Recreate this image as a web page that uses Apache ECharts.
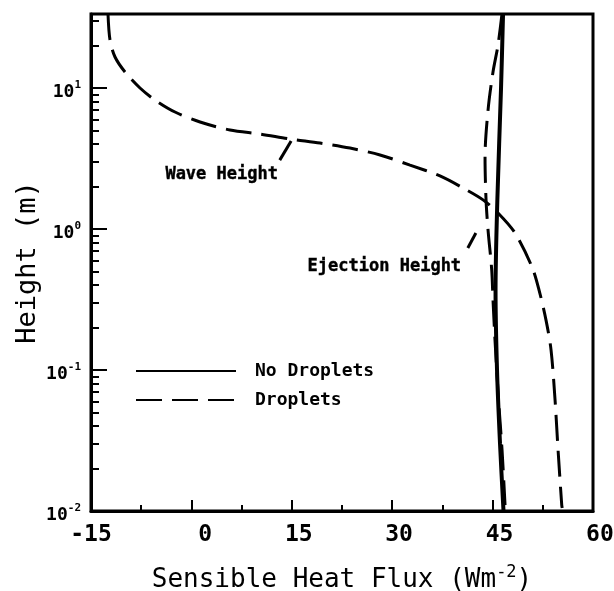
<!DOCTYPE html>
<html>
<head>
<meta charset="utf-8">
<script src="https://cdn.jsdelivr.net/npm/echarts@6/dist/echarts.min.js"></script>
<style>html,body{margin:0;padding:0;background:#fff}#c{width:614px;height:591px}</style>
</head>
<body>
<div id="c"></div>
<script>
// x = sensible heat flux (W m^-2), h = height (m)
const xTicks = [-15, 0, 15, 30, 45, 60];
const yMajor = [0.01, 0.1, 1, 10];
const yMinor = [0.02,0.03,0.04,0.05,0.06,0.07,0.08,0.09,0.2,0.3,0.4,0.5,0.6,0.7,0.8,0.9,2,3,4,5,6,7,8,9,20,30];

const noDropletsX = [46.56, 46.26, 45.71, 45.44, 45.66, 46.11, 46.63];
const noDropletsH = [33.5, 10, 1.61, 0.369, 0.1, 0.0299, 0.01];

const waveX = [-12.46, -12.16, -11.41, -9.92, -7.68, -5.44, -2.45, 1.29, 5.77, 10.25, 14.73, 19.22, 23.70, 28.18, 32.66, 37.14, 40.88, 43.57, 45.81, 48.35, 50.89, 51.94, 52.98, 53.73, 54.33, 54.78, 55.33, 55.4];
const waveH = [33.5, 21.9, 16.6, 13.0, 10.0, 8.22, 6.76, 5.74, 5.04, 4.72, 4.35, 4.07, 3.75, 3.35, 2.84, 2.38, 1.92, 1.61, 1.30, 0.937, 0.538, 0.369, 0.226, 0.139, 0.0613, 0.0271, 0.0110, 0.0105];

const ejectX = [46.4, 45.81, 45.06, 44.32, 43.87, 44.02, 44.32, 44.87, 45.06, 45.36, 45.89, 46.41, 46.86];
const ejectH = [33.5, 20.2, 13.0, 6.98, 3.24, 1.61, 0.984, 0.512, 0.314, 0.163, 0.0613, 0.0271, 0.0110];

const waveLabel = {text: 'Wave Height', x: 4.6, h: 2.41};
const ejectLabel = {text: 'Ejection Height', x: 28.9, h: 0.537};
const waveLeaderX = [13.2, 14.9], waveLeaderH = [3.08, 4.21];
const ejectLeaderX = [41.3, 42.5], ejectLeaderH = [0.733, 0.937];

const zip = (a, b) => a.map((v, i) => [v, b[i]]);
const MONO = 'DejaVu Sans Mono';
const dash = [26, 10];
const pad3 = v => { const s = String(v); return '\u00a0'.repeat(Math.max(0, 3 - s.length)) + s; };

const chart = echarts.init(document.getElementById('c'), null, {renderer: 'canvas'});
chart.setOption({
  backgroundColor: '#fff',
  animation: false,
  color: ['#000'],
  grid: {left: 91, right: 21, top: 14, bottom: 80, containLabel: false, outerBoundsMode: 'none',
    show: true, borderColor: '#000', borderWidth: 3, backgroundColor: 'transparent'},
  legend: {
    orient: 'vertical', left: 135, top: 362, padding: 0, itemWidth: 100, itemHeight: 20, itemGap: 11,
    data: ['No Droplets', 'Droplets'],
    itemStyle: {opacity: 0},
    textStyle: {fontFamily: MONO, fontWeight: 'bold', fontSize: 18, color: '#000', padding: [0, 0, 0, 14]}
  },
  xAxis: {
    type: 'value', min: -15, max: 60, interval: 15,
    name: 'Sensible Heat Flux (Wm{s|-2})', nameLocation: 'middle', nameGap: 53, nameMoveOverlap: false,
    nameTextStyle: {fontFamily: MONO, fontSize: 26, color: '#000',
      rich: {s: {fontFamily: MONO, fontSize: 17, color: '#000', padding: [0, 0, 15, 0]}}},
    axisLine: {onZero: false, lineStyle: {color: '#000', width: 3}},
    axisTick: {inside: true, length: 11, lineStyle: {color: '#000', width: 2}},
    minorTick: {show: true, splitNumber: 2, length: 6, lineStyle: {color: '#000', width: 2}},
    splitLine: {show: false},
    axisLabel: {fontFamily: MONO, fontWeight: 'bold', fontSize: 23, color: '#000', margin: 13,
      customValues: xTicks, formatter: pad3}
  },
  yAxis: [{
    type: 'log', logBase: 10, min: 0.01, max: 33.5,
    name: 'Height (m)', nameLocation: 'middle', nameGap: 50, nameMoveOverlap: false,
    nameTextStyle: {fontFamily: MONO, fontSize: 27, color: '#000'},
    axisLine: {onZero: false, lineStyle: {color: '#000', width: 3}},
    axisTick: {inside: true, length: 16, lineStyle: {color: '#000', width: 2}, customValues: yMajor},
    splitLine: {show: false},
    axisLabel: {
      customValues: yMajor, margin: 10,
      formatter: v => '{b|10}{s|' + Math.round(Math.log10(v)) + '}',
      rich: {
        b: {fontFamily: MONO, fontWeight: 'bold', fontSize: 18, color: '#000', padding: [8, 0, 0, 0]},
        s: {fontFamily: MONO, fontWeight: 'bold', fontSize: 11, color: '#000', padding: [0, 0, 6, 0]}
      }
    }
  }, {
    type: 'log', logBase: 10, min: 0.01, max: 33.5, position: 'left',
    axisLine: {show: false, onZero: false},
    axisTick: {inside: true, length: 8, lineStyle: {color: '#000', width: 2}, customValues: yMinor},
    axisLabel: {show: false},
    splitLine: {show: false}
  }],
  series: [
    {name: 'No Droplets', type: 'line', data: zip(noDropletsX, noDropletsH), smooth: 0.3, symbol: 'none',
      itemStyle: {color: '#000'}, lineStyle: {color: '#000', width: 4}},
    {name: 'Droplets', type: 'line', data: zip(waveX, waveH), smooth: 0.3, symbol: 'none',
      itemStyle: {color: '#000'}, lineStyle: {color: '#000', width: 3, type: dash}},
    {name: 'Droplets', type: 'line', data: zip(ejectX, ejectH), smooth: 0.3, symbol: 'none',
      itemStyle: {color: '#000'}, lineStyle: {color: '#000', width: 3, type: dash}},
    {name: 'waveLeader', type: 'line', data: zip(waveLeaderX, waveLeaderH), symbol: 'none',
      lineStyle: {color: '#000', width: 3}},
    {name: 'ejectLeader', type: 'line', data: zip(ejectLeaderX, ejectLeaderH), symbol: 'none',
      lineStyle: {color: '#000', width: 3}},
    {name: 'labels', type: 'scatter', symbolSize: 1, silent: true, itemStyle: {color: 'transparent'},
      data: [waveLabel, ejectLabel].map(d => ({value: [d.x, d.h],
        label: {show: true, formatter: d.text, color: '#000', opacity: 1, fontFamily: MONO, fontWeight: 'bold', fontSize: 17,
          textBorderColor: '#000', textBorderWidth: 0.4}})),
      label: {position: [0, 0], align: 'center', verticalAlign: 'middle', color: '#000'}}
  ]
});
</script>
</body>
</html>
